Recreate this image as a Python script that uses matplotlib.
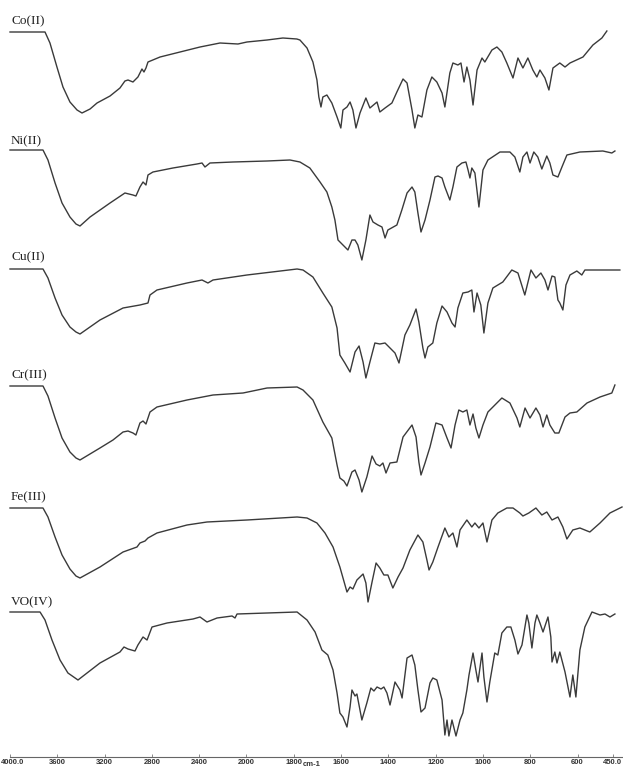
import numpy as np
import matplotlib
matplotlib.use("Agg")
import matplotlib.pyplot as plt

# IR spectra of the metal complexes (wavenumber in cm-1, relative transmittance)
co_wn = [4000, 3704, 3662, 3603, 3552, 3493, 3433, 3391, 3323, 3264, 3154, 3070, 3028, 3002, 2960, 2918,
         2884, 2867, 2850, 2833, 2731, 2562, 2393, 2224, 2072, 1998, 1913, 1846, 1787, 1774, 1744, 1719,
         1702, 1694, 1685, 1677, 1660, 1639, 1617, 1601, 1592, 1575, 1562, 1550, 1537, 1520, 1495, 1478,
         1448, 1436, 1414, 1385, 1364, 1338, 1321, 1300, 1288, 1275, 1258, 1237, 1216, 1195, 1173, 1161,
         1140, 1127, 1106, 1093, 1080, 1068, 1055, 1042, 1025, 1004, 992, 962, 941, 920, 899, 873, 852,
         831, 810, 789, 772, 759, 738, 721, 704, 675, 653, 632, 577, 535, 497, 476]
co_t = [103, 103, 92, 68, 48, 33, 25, 22, 26, 32, 39, 47, 54, 55, 53, 58, 66, 63, 67, 73, 78, 83, 88, 92,
        91, 93, 95, 97, 96, 95, 87, 73, 55, 38, 28, 38, 40, 32, 18, 7, 25, 28, 33, 25, 7, 22, 37, 27, 33,
        23, 27, 32, 43, 56, 52, 25, 7, 20, 18, 45, 58, 53, 42, 28, 62, 72, 70, 72, 53, 68, 55, 30, 65, 77,
        73, 85, 88, 83, 72, 57, 77, 67, 77, 65, 58, 65, 57, 45, 67, 72, 68, 72, 78, 90, 97, 104]

ni_wn = [4000, 3721, 3679, 3619, 3560, 3493, 3442, 3408, 3323, 3154, 3028, 2960, 2935, 2901, 2875, 2850,
         2833, 2791, 2622, 2419, 2376, 2351, 2309, 2114, 1913, 1816, 1774, 1732, 1689, 1660, 1639, 1626,
         1613, 1592, 1571, 1554, 1541, 1529, 1512, 1495, 1478, 1465, 1444, 1427, 1414, 1402, 1364, 1343,
         1321, 1300, 1288, 1275, 1262, 1245, 1224, 1203, 1190, 1173, 1161, 1140, 1127, 1110, 1089, 1072,
         1063, 1055, 1047, 1034, 1017, 1000, 979, 928, 886, 865, 844, 831, 814, 801, 785, 768, 751, 730,
         717, 704, 683, 666, 645, 590, 493, 455, 442]
ni_t = [115, 115, 105, 82, 62, 48, 41, 39, 48, 62, 72, 70, 69, 78, 83, 80, 90, 93, 97, 101, 102, 98, 102,
        103, 104, 105, 103, 97, 83, 73, 58, 45, 25, 20, 15, 25, 25, 20, 5, 25, 50, 43, 40, 38, 27, 35, 40,
        55, 72, 78, 73, 52, 33, 45, 65, 88, 89, 87, 78, 65, 78, 98, 102, 103, 95, 87, 97, 92, 58, 95, 105,
        113, 113, 108, 93, 108, 113, 102, 113, 108, 96, 109, 102, 90, 88, 98, 110, 113, 114, 112, 114]

cu_wn = [4000, 3721, 3679, 3619, 3560, 3493, 3442, 3408, 3239, 3044, 2901, 2833, 2816, 2757, 2503, 2376,
         2326, 2283, 1998, 1786, 1761, 1719, 1677, 1639, 1617, 1605, 1584, 1562, 1541, 1524, 1507, 1495,
         1478, 1457, 1436, 1414, 1393, 1372, 1355, 1330, 1309, 1283, 1271, 1254, 1245, 1233, 1212, 1195,
         1173, 1152, 1131, 1118, 1106, 1085, 1063, 1047, 1038, 1025, 1009, 996, 979, 958, 916, 878, 852,
         823, 797, 776, 755, 738, 725, 708, 696, 683, 675, 662, 649, 632, 603, 582, 569, 421]
cu_t = [116, 116, 107, 87, 70, 58, 53, 51, 65, 77, 80, 82, 90, 95, 102, 105, 102, 105, 110, 116, 115, 108,
        92, 78, 57, 30, 22, 13, 33, 39, 23, 7, 23, 42, 41, 42, 37, 32, 22, 50, 60, 76, 63, 37, 27, 38, 42,
        62, 79, 73, 62, 58, 77, 92, 93, 95, 73, 92, 80, 52, 82, 97, 103, 115, 112, 90, 115, 107, 112, 105,
        95, 109, 108, 85, 82, 75, 100, 110, 114, 110, 115, 115]

cr_wn = [4000, 3721, 3679, 3619, 3560, 3493, 3442, 3408, 3239, 3129, 3044, 3002, 2960, 2935, 2901, 2875,
         2850, 2816, 2757, 2503, 2283, 2029, 1913, 1786, 1761, 1719, 1677, 1639, 1617, 1605, 1588, 1575,
         1554, 1541, 1524, 1512, 1491, 1469, 1452, 1436, 1423, 1410, 1393, 1364, 1338, 1300, 1283, 1271,
         1262, 1245, 1224, 1199, 1173, 1152, 1135, 1118, 1102, 1085, 1068, 1055, 1042, 1030, 1017, 1000,
         979, 920, 886, 856, 844, 822, 801, 776, 759, 746, 730, 717, 696, 679, 653, 632, 603, 560, 505,
         455, 442]
cr_t = [114, 114, 104, 82, 62, 48, 42, 40, 52, 60, 68, 69, 67, 65, 77, 79, 76, 88, 93, 100, 105, 107, 112,
        113, 110, 100, 78, 62, 35, 22, 19, 14, 28, 30, 20, 8, 23, 44, 36, 34, 37, 27, 37, 38, 63, 75, 63,
        38, 25, 37, 53, 77, 75, 62, 52, 75, 90, 88, 90, 75, 86, 72, 62, 75, 88, 102, 97, 82, 73, 92, 82,
        92, 85, 73, 85, 75, 67, 67, 83, 87, 88, 97, 103, 107, 115]

fe_wn = [4000, 3721, 3679, 3619, 3560, 3493, 3442, 3408, 3239, 3044, 2926, 2901, 2858, 2833, 2757, 2503,
         2334, 1998, 1786, 1744, 1702, 1668, 1634, 1605, 1575, 1562, 1550, 1533, 1507, 1495, 1486, 1469,
         1452, 1436, 1419, 1402, 1381, 1359, 1338, 1309, 1275, 1254, 1237, 1228, 1212, 1190, 1161, 1144,
         1127, 1110, 1097, 1068, 1047, 1034, 1017, 1000, 983, 962, 937, 899, 873, 844, 831, 806, 776, 751,
         730, 708, 683, 662, 645, 620, 590, 548, 505, 463, 412]
fe_t = [102, 102, 93, 73, 55, 41, 34, 32, 43, 58, 63, 67, 69, 72, 77, 85, 88, 90, 93, 92, 87, 77, 63, 43,
        18, 23, 21, 30, 36, 27, 8, 28, 47, 42, 35, 35, 22, 33, 42, 60, 75, 68, 50, 40, 48, 63, 82, 73, 77,
        63, 80, 90, 83, 87, 82, 87, 68, 90, 97, 102, 102, 97, 94, 97, 102, 95, 98, 90, 93, 83, 71, 80, 82,
        78, 87, 97, 103]

vo_wn = [4000, 3746, 3704, 3645, 3577, 3510, 3425, 3239, 3070, 3036, 3002, 2943, 2918, 2875, 2841, 2799,
         2672, 2452, 2393, 2334, 2249, 2122, 2097, 2080, 1913, 1786, 1744, 1710, 1681, 1656, 1634, 1617,
         1605, 1592, 1575, 1562, 1554, 1541, 1533, 1512, 1491, 1474, 1461, 1448, 1431, 1419, 1406, 1393,
         1372, 1351, 1342, 1321, 1300, 1288, 1275, 1262, 1245, 1224, 1212, 1195, 1173, 1161, 1152, 1144,
         1131, 1114, 1097, 1085, 1068, 1059, 1042, 1030, 1021, 1004, 996, 983, 971, 950, 937, 920, 899,
         882, 865, 852, 835, 814, 806, 793, 780, 772, 759, 746, 725, 713, 708, 696, 687, 675, 653, 632,
         620, 607, 590, 569, 539, 505, 484, 463, 442]
vo_t = [128, 128, 120, 100, 80, 67, 60, 77, 88, 93, 91, 89, 95, 103, 100, 113, 117, 121, 123, 118, 122,
        124, 122, 126, 127, 128, 120, 108, 90, 85, 70, 47, 27, 23, 13, 33, 50, 44, 46, 20, 37, 52, 49, 53,
        51, 53, 47, 35, 58, 50, 42, 82, 85, 75, 50, 28, 32, 57, 62, 60, 40, 5, 20, 4, 20, 4, 20, 27, 50,
        65, 87, 70, 58, 87, 63, 38, 58, 87, 85, 107, 113, 113, 100, 86, 95, 125, 117, 92, 117, 125, 117,
        108, 123, 103, 78, 88, 77, 88, 68, 43, 65, 43, 90, 113, 128, 125, 126, 123, 126]

names = ["Co(II)", "Ni(II)", "Cu(II)", "Cr(III)", "Fe(III)", "VO(IV)"]
spectra = [(co_wn, co_t), (ni_wn, ni_t), (cu_wn, cu_t), (cr_wn, cr_t), (fe_wn, fe_t), (vo_wn, vo_t)]
offsets = [622, 492, 372, 257, 147, 17]
label_y = [21, 141, 257, 375, 497, 602]   # label centres, pixels from top

tick_vals = [4000, 3600, 3200, 2800, 2400, 2000, 1800, 1600, 1400, 1200, 1000, 800, 600, 450]
tick_text = ["", "3600", "3200", "2800", "2400", "2000", "1800", "1600", "1400", "1200",
             "1000", "800", "600", ""]


# instrument axis: scale halves below 2000 cm-1
def fwd(w):
    w = np.asarray(w, dtype=float)
    return np.where(w >= 2000, (w - 2000) / 400.0, (w - 2000) / 200.0)


def inv(t):
    t = np.asarray(t, dtype=float)
    return np.where(t >= 0, 2000 + 400.0 * t, 2000 + 200.0 * t)


W, H = 623, 769
fig = plt.figure(figsize=(W / 100, H / 100), dpi=100)
ax = fig.add_axes([10 / W, 12 / H, 612 / W, 757 / H])
ax.set_xscale("function", functions=(fwd, inv))
ax.set_xlim(4000, 412)
ax.set_ylim(0, 757)

for (wn, t), off in zip(spectra, offsets):
    ax.plot(wn, np.array(t) + off, color="#3a3a3a", lw=1.0, clip_on=False)

for name, ly in zip(names, label_y):
    fig.text(11 / W, 1 - ly / H, name, family="Liberation Serif", fontsize=9.5,
             va="center", ha="left", color="#222222")

for s in ["top", "left", "right"]:
    ax.spines[s].set_visible(False)
ax.spines["bottom"].set_color("#666666")
ax.spines["bottom"].set_linewidth(0.8)
ax.set_yticks([])
ax.set_xticks(tick_vals)
ax.set_xticklabels(tick_text)
ax.xaxis.set_minor_locator(matplotlib.ticker.NullLocator())
ax.tick_params(axis="x", direction="in", length=2, width=0.6, color="#777777",
               pad=1.5, labelsize=5.5, labelcolor="#333333")
for lab in ax.get_xticklabels():
    lab.set_family("Liberation Sans")
    lab.set_fontweight("bold")

# end labels sit against the figure edges
edge_kw = dict(family="Liberation Sans", fontsize=5.5, fontweight="bold", va="center", color="#333333")
fig.text(1 / W, 1 - 763 / H, "4000.0", ha="left", **edge_kw)
fig.text(622 / W, 1 - 763 / H, "450.0", ha="right", **edge_kw)

fig.text(312 / W, 1 / H, "cm-1", family="Liberation Sans", fontsize=5.5, fontweight="bold",
         ha="center", va="bottom", color="#333333")

fig.savefig("out.png", dpi=100)
